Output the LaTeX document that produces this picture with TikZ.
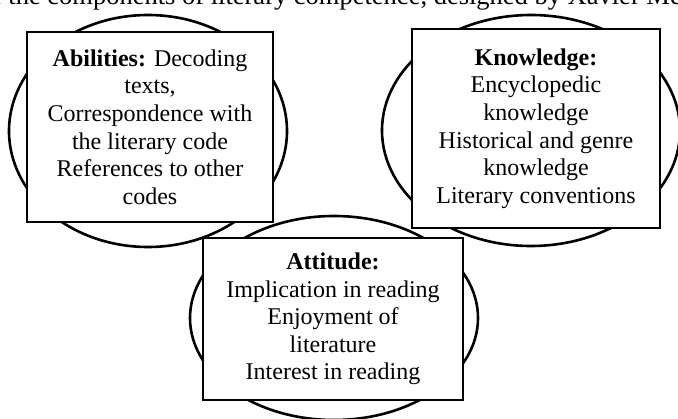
\documentclass[tikz,border=0pt]{standalone}
\usepackage{fontspec}
\setmainfont{Liberation Serif}
\usetikzlibrary{shapes.geometric}
\begin{document}
\begin{tikzpicture}[x=1pt,y=-1pt,
  ring/.style={draw=black,line width=2.6pt,ellipse,inner sep=0pt},
  card/.style={draw=black,fill=white,line width=1.8pt,align=center,
    inner sep=0pt,font=\fontsize{24}{27.6}\selectfont},
  caption/.style={inner sep=0pt,font=\fontsize{26.5}{30}\selectfont}]
\useasboundingbox (0,0) rectangle (678,419);
\clip (0,0) rectangle (678,419);
\fill[white] (0,0) rectangle (678,419);

% caption line, cut off along the top edge
\node[caption,anchor=base west] (cap) at (-20.5,4.5)
  {of the components of literary competence, designed by Xavier Mendoza};

% the three rings
\node[ring,minimum width=278pt,minimum height=232pt] (abRing) at (148,131) {};
\node[ring,minimum width=298pt,minimum height=231pt] (knRing) at (531,130.5) {};
\node[ring,minimum width=288pt,minimum height=204pt] (atRing) at (334,318) {};

% the three text boxes
\node[card,minimum width=246pt,minimum height=190pt] (abilities) at (150,127)
  {\textbf{Abilities:} Decoding\\ texts,\\ Correspondence with\\ the literary code\\
   References to other\\ codes};
\node[card,minimum width=248pt,minimum height=199pt] (knowledge) at (536,128.5)
  {\textbf{Knowledge:}\\ Encyclopedic\\ knowledge\\ Historical and genre\\
   knowledge\\ Literary conventions};
\node[card,minimum width=260pt,minimum height=162pt] (attitude) at (333,319)
  {\textbf{Attitude:}\\ Implication in reading\\ Enjoyment of\\ literature\\
   Interest in reading};
\end{tikzpicture}
\end{document}
